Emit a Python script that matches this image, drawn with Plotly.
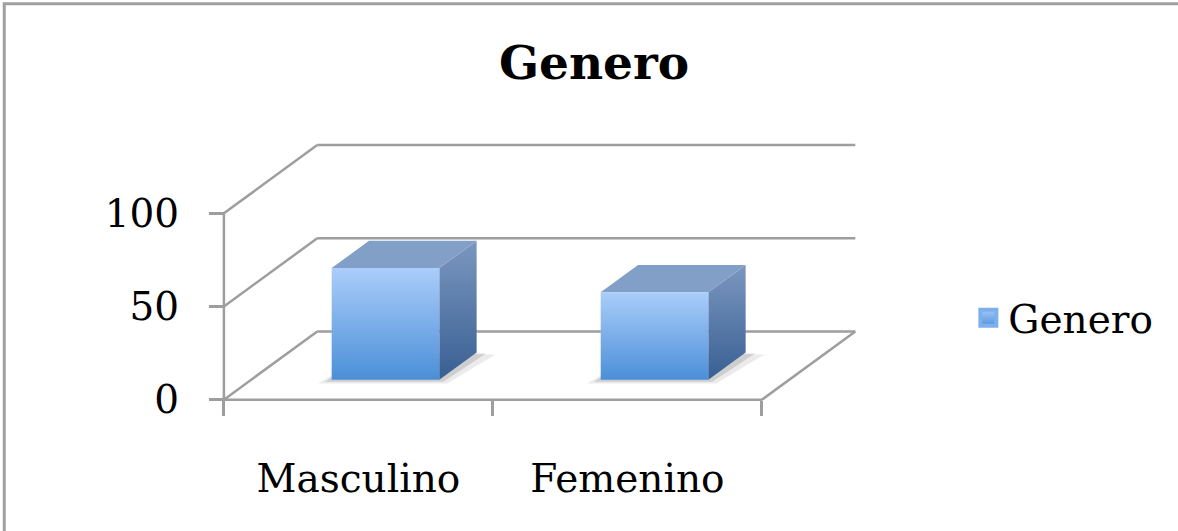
import plotly.graph_objects as go

# ---------------- data ----------------
categories = ["Masculino", "Femenino"]
values = [60, 47]
series_name = "Genero"
y_ticks = [0, 50, 100]

# ---------------- style / geometry constants ----------------
W, H = 1178, 531
FONT = "DejaVu Serif"
GRID = "#9e9e9e"
X0PX, Y0PX = 224.0, 400.0          # pixel of (x=0, y=0)
XPX = (761.7 - 224.0) / 2          # pixels per category
YPX = (400.0 - 213.3) / 100        # pixels per value unit
DX = 93.3 / XPX                     # depth offset in category units
DY = 68.3 / YPX                     # depth offset in value units
BAR_W = 0.40                        # bar width (fraction of category)
D0, D1 = 0.29, 0.69                 # bar depth span (fraction of floor depth)
YMAX = y_ticks[-1]

xr = [-0.1, 2.45]
yr = [-12, 142]
l = X0PX + xr[0] * XPX
pw = (xr[1] - xr[0]) * XPX
r = W - l - pw
t = Y0PX - yr[1] * YPX
ph = (yr[1] - yr[0]) * YPX
b = H - t - ph

fig = go.Figure()

def line(xs, ys, color=GRID, width=2.5):
    fig.add_trace(go.Scatter(x=xs, y=ys, mode="lines", showlegend=False,
                             hoverinfo="skip", line=dict(color=color, width=width)))

n = len(categories)
# back wall gridlines and side wall diagonals
for g in y_ticks:
    line([DX, n + DX], [g + DY, g + DY])
    line([0, DX], [g, g + DY])
# floor front (x axis line) and right edge
line([0, n], [0, 0])
line([n, n + DX], [0, DY])
# y axis line
line([0, 0], [0, YMAX])

def poly(xs, ys, **kw):
    fig.add_trace(go.Scatter(x=xs + [xs[0]], y=ys + [ys[0]], mode="lines", fill="toself",
                             showlegend=False, hoverinfo="skip",
                             line=dict(width=0, color="rgba(0,0,0,0)"), **kw))

for i, v in enumerate(values):
    c = i + 0.5
    xl, xrr = c - BAR_W / 2, c + BAR_W / 2
    fx0, fy0 = D0 * DX, D0 * DY
    bx0, by0 = D1 * DX, D1 * DY
    # shadow on floor
    for grow, alpha in ((0.05, 0.08), (0.025, 0.12)):
        poly([xl + fx0 - grow, xrr + fx0 + grow * 0.6, xrr + bx0 + grow * 1.4, xl + bx0],
             [fy0 - grow * 40, fy0 - grow * 40, by0 - grow * 20, by0],
             fillcolor=f"rgba(0,0,0,{alpha})")
    # side face
    poly([xrr + fx0, xrr + bx0, xrr + bx0, xrr + fx0],
         [fy0, by0, by0 + v, fy0 + v],
         fillgradient=dict(type="vertical",
                           colorscale=[[0, "#385f92"], [1, "#7b97c0"]]))
    # top face
    poly([xl + fx0, xrr + fx0, xrr + bx0, xl + bx0],
         [fy0 + v, fy0 + v, by0 + v, by0 + v],
         fillcolor="#829fc7")
    # front face
    poly([xl + fx0, xrr + fx0, xrr + fx0, xl + fx0],
         [fy0, fy0, fy0 + v, fy0 + v],
         fillgradient=dict(type="vertical",
                           colorscale=[[0, "#4b8fd8"], [1, "#abcdfa"]]))

# legend entry
fig.add_trace(go.Scatter(x=[None], y=[None], mode="markers", name=series_name,
                         marker=dict(symbol="square", size=16, color="#a4c8f7",
                                     gradient=dict(type="vertical", color="#5294dc"),
                                     line=dict(width=4, color="#7cb0ec"))))

fig.update_layout(
    width=W, height=H,
    margin=dict(l=l, r=r, t=t, b=b, pad=0),
    paper_bgcolor="white", plot_bgcolor="rgba(0,0,0,0)",
    font=dict(family=FONT, color="black", size=39),
    title=dict(text="<b>Genero</b>", x=594 / W, xanchor="center", xref="container",
               y=1 - 63 / H, yanchor="middle", yref="container",
               font=dict(family=FONT, size=47, color="black")),
    showlegend=True,
    legend=dict(x=(968 - l) / pw, xanchor="left", y=(t + ph - 318) / ph, yanchor="middle",
                font=dict(family=FONT, size=39), itemsizing="trace",
                bgcolor="rgba(0,0,0,0)", borderwidth=0),
    xaxis=dict(range=xr, anchor="free", position=(t + ph - Y0PX) / ph,
               showgrid=False, zeroline=False, showline=False,
               tickmode="array", tickvals=[k + 0.5 for k in range(n)], ticktext=categories,
               ticks="", ticklabelstandoff=52,
               tickfont=dict(family=FONT, size=39),
               minor=dict(tickmode="array", tickvals=list(range(n + 1)), ticks="outside",
                          ticklen=15, tickwidth=2.5, tickcolor=GRID, showgrid=False)),
    yaxis=dict(range=yr, anchor="free", position=(X0PX - l) / pw,
               showgrid=False, zeroline=False, showline=False,
               tickmode="array", tickvals=y_ticks, ticks="outside", ticklen=15,
               tickwidth=2.5, tickcolor=GRID, ticklabelstandoff=22,
               tickfont=dict(family=FONT, size=39)),
    shapes=[dict(type="rect", xref="paper", yref="paper",
                 x0=(4.5 - l) / pw, x1=(W + 20 - l) / pw,
                 y0=(t + ph - (H + 20)) / ph, y1=(t + ph - 3.5) / ph,
                 line=dict(color="#a0a0a0", width=3), fillcolor="rgba(0,0,0,0)", layer="below")],
)

fig.write_html("out.html")
